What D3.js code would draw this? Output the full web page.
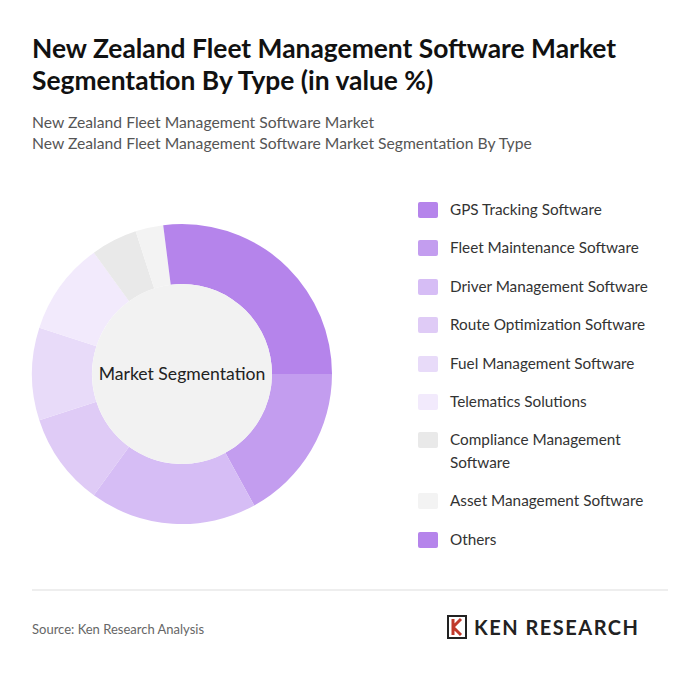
<!DOCTYPE html>
<html><head><meta charset="utf-8">
<script src="https://cdn.jsdelivr.net/npm/d3@7"></script>
<style>body{margin:0;background:#fff;font-family:Lato,sans-serif;}</style>
</head><body>
<script>
// data
var categories=["GPS Tracking Software","Fleet Maintenance Software","Driver Management Software","Route Optimization Software","Fuel Management Software","Telematics Solutions","Compliance Management Software","Asset Management Software","Others"];
var values=[25,17,18,10,10,10,5,3,2];
var colors=["#b584eb","#c39def","#d6bdf5","#dfcbf6","#e8dbf9","#f2eafc","#e9e9e9","#f3f3f3","#b584eb"];

var width=700,height=675;
var svg=d3.select("body").append("svg").attr("width",width).attr("height",height);

svg.append("text").attr("x",32).attr("y",58).attr("font-size",26.4).attr("font-weight",700).attr("fill","#111")
  .text("New Zealand Fleet Management Software Market");
svg.append("text").attr("x",32).attr("y",90).attr("font-size",26.4).attr("font-weight",700).attr("fill","#111")
  .text("Segmentation By Type (in value %)");
svg.append("text").attr("x",32).attr("y",128).attr("font-size",15.7).attr("fill","#555").text("New Zealand Fleet Management Software Market");
svg.append("text").attr("x",32).attr("y",149).attr("font-size",15.7).attr("fill","#555").text("New Zealand Fleet Management Software Market Segmentation By Type");

// donut
var cx=182,cy=374;
var pie=d3.pie().sort(null).value(function(d){return d;});
var arc=d3.arc().innerRadius(90).outerRadius(150);
var g=svg.append("g").attr("transform","translate("+cx+","+cy+")");
g.selectAll("path").data(pie(values)).enter().append("path")
  .attr("d",arc).attr("fill",function(d,i){return colors[i];});
g.append("circle").attr("r",90).attr("fill","#f2f2f2");
g.append("text").attr("text-anchor","middle").attr("y",6).attr("font-size",17.6).attr("fill","#222").text("Market Segmentation");

// legend
var ly=[210,248,287,325,364,402,440,501,540];
var leg=svg.append("g");
categories.forEach(function(c,i){
  leg.append("rect").attr("x",418).attr("y",ly[i]-8).attr("width",20).attr("height",16).attr("rx",2).attr("fill",colors[i]);
  var t=leg.append("text").attr("x",450).attr("y",ly[i]+5).attr("font-size",15.3).attr("fill","#333");
  if(c==="Compliance Management Software"){
    t.append("tspan").attr("x",450).text("Compliance Management");
    t.append("tspan").attr("x",450).attr("dy",23).text("Software");
  } else t.text(c);
});

svg.append("line").attr("x1",32).attr("x2",668).attr("y1",590).attr("y2",590).attr("stroke","#ddd");
svg.append("text").attr("x",32).attr("y",634).attr("font-size",13).attr("fill","#666").text("Source: Ken Research Analysis");

// logo
var lg=svg.append("g").attr("transform","translate(448,616)");
lg.append("path").attr("d","M0,0 L18,0 L18,22 L0,22 Z").attr("fill","none").attr("stroke","#222").attr("stroke-width",2);
lg.append("path").attr("d","M5,3 L5,19 M5,11 L13,3 M5,11 L13,19").attr("fill","none").attr("stroke","#c0392b").attr("stroke-width",3);
lg.append("text").attr("x",26).attr("y",19).attr("font-size",20).attr("font-weight",700).attr("fill","#222").attr("letter-spacing",1.5).text("KEN RESEARCH");
</script>
</body></html>
